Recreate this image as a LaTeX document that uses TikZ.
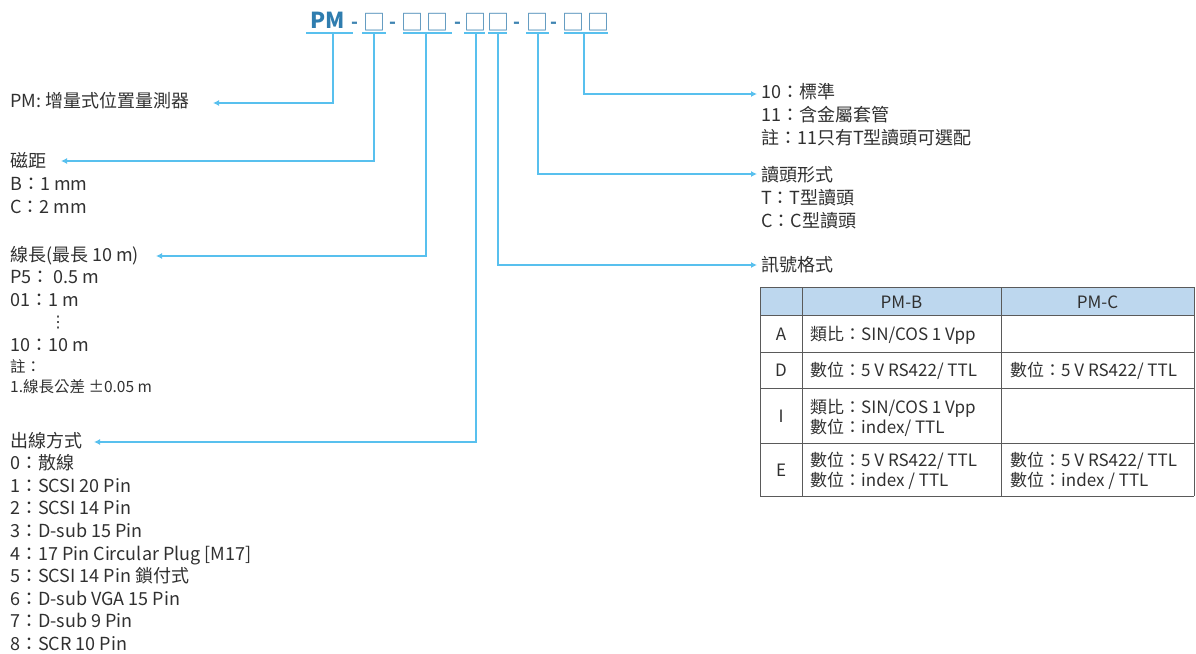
\documentclass[tikz,border=0pt]{standalone}
\usepackage{fontspec}
\setmainfont{Noto Sans CJK TC}
\newfontfamily\dejavu{DejaVu Sans}
\usetikzlibrary{arrows.meta}
\definecolor{hdrblue}{HTML}{2F7DAF}
\definecolor{boxblue}{HTML}{3F84B2}
\definecolor{connblue}{HTML}{58C0EE}
\definecolor{txtgray}{HTML}{303030}
\definecolor{gridgray}{HTML}{5A5A5A}
\definecolor{theadfill}{HTML}{BDD7EE}
\tikzset{
  lbl/.style={anchor=base west, inner sep=0pt, text=txtgray, font=\fontsize{18}{22}\selectfont},
  smalllbl/.style={lbl, font=\fontsize{15.5}{18}\selectfont},
  connector/.style={draw=connblue, line width=1.8pt, -{Latex[length=6pt,width=6pt]}},
  uline/.style={draw=connblue, line width=1.8pt},
  hdtext/.style={anchor=base, inner sep=0pt, text=hdrblue},
  hdbox/.style={anchor=base, inner sep=0pt, text=boxblue, font=\fontsize{22}{22}\selectfont},
  hddash/.style={anchor=base, inner sep=0pt, text=boxblue, font=\bfseries\fontsize{18}{18}\selectfont},
  cell/.style={anchor=base west, inner sep=0pt, text=txtgray, font=\fontsize{17}{20}\selectfont},
  cellc/.style={cell, anchor=base},
  gridline/.style={draw=gridgray, line width=0.9pt},
}
\begin{document}
\begin{tikzpicture}[x=1pt,y=-1pt]
\useasboundingbox (0,0) rectangle (1196,653);

% ---------- header code ----------
\node[hdtext, font=\bfseries\fontsize{22}{22}\selectfont] (pm) at (327.5,28) {PM};
\node[hddash] (d1) at (355,28) {-};
\node[hdbox] (b1) at (374.5,30.5) {□};
\node[hddash] (d2) at (393,28) {-};
\node[hdbox] (b2a) at (412.5,30.5) {□};
\node[hdbox] (b2b) at (437,30.5) {□};
\node[hddash] (d3) at (458,28) {-};
\node[hdbox] (b3a) at (475,30.5) {□};
\node[hdbox] (b3b) at (498,30.5) {□};
\node[hddash] (d4) at (517,28) {-};
\node[hdbox] (b4) at (537,30.5) {□};
\node[hddash] (d5) at (554,28) {-};
\node[hdbox] (b5a) at (573,30.5) {□};
\node[hdbox] (b5b) at (598,30.5) {□};

% underline coordinates
\coordinate (u1l) at (306,33); \coordinate (u1r) at (353,33); \coordinate (s1) at (333,33);
\coordinate (u2l) at (362,33); \coordinate (u2r) at (386,33); \coordinate (s2) at (374,33);
\coordinate (u3l) at (403,33); \coordinate (u3r) at (452,33); \coordinate (s3) at (426,33);
\coordinate (u4l) at (464,33); \coordinate (u4r) at (485,33); \coordinate (s4) at (476,33);
\coordinate (u5l) at (488,33); \coordinate (u5r) at (507,33); \coordinate (s5) at (498,33);
\coordinate (u6l) at (526,33); \coordinate (u6r) at (549,33); \coordinate (s6) at (538,33);
\coordinate (u7l) at (564,33); \coordinate (u7r) at (608,33); \coordinate (s7) at (584,33);
\foreach \i in {1,...,7} { \draw[uline] (u\i l) -- (u\i r); }

% arrow end coordinates
\coordinate (e1) at (213,103);
\coordinate (e2) at (61,161);
\coordinate (e3) at (156,256);
\coordinate (e4) at (94,442);
\coordinate (e5) at (757,265);
\coordinate (e6) at (757,174);
\coordinate (e7) at (757,94);
\foreach \i in {1,...,7} { \draw[connector] (s\i) |- (e\i); }

% ---------- left labels ----------
\node[lbl] (t1) at (10,107) {PM: 增量式位置量測器};

\node[lbl] (t2) at (10,167) {磁距};
\node[lbl] (t2a) at (10,190) {B：1 mm};
\node[lbl] (t2b) at (10,213) {C：2 mm};

\node[lbl] (t3) at (10,261) {線長(最長 10 m)};
\node[lbl] (t3a) at (10,283.6) {P5： 0.5 m};
\node[lbl] (t3b) at (10,306.2) {01：1 m};
\node[inner sep=0pt, text=txtgray, font=\dejavu\fontsize{16}{16}\selectfont] (t3c) at (58,323) {⋮};
\node[lbl] (t3d) at (10,351.4) {10：10 m};
\node[smalllbl] (t3e) at (10,372) {註：};
\node[smalllbl] (t3f) at (10,392) {1.線長公差 ±0.05 m};

\node[lbl] (t4) at (10,447) {出線方式};
\node[lbl] (t40) at (10,469.6) {0：散線};
\node[lbl] (t41) at (10,492.2) {1：SCSI 20 Pin};
\node[lbl] (t42) at (10,514.8) {2：SCSI 14 Pin};
\node[lbl] (t43) at (10,537.4) {3：D-sub 15 Pin};
\node[lbl] (t44) at (10,560) {4：17 Pin Circular Plug [M17]};
\node[lbl] (t45) at (10,582.6) {5：SCSI 14 Pin 鎖付式};
\node[lbl] (t46) at (10,605.2) {6：D-sub VGA 15 Pin};
\node[lbl] (t47) at (10,627.8) {7：D-sub 9 Pin};
\node[lbl] (t48) at (10,650.4) {8：SCR 10 Pin};

% ---------- right labels ----------
\node[lbl] (r1) at (761,98) {10：標準};
\node[lbl] (r1a) at (761,121) {11：含金屬套管};
\node[lbl] (r1b) at (761,144) {註：11只有T型讀頭可選配};
\node[lbl] (r2) at (761,181) {讀頭形式};
\node[lbl] (r2a) at (761,204) {T：T型讀頭};
\node[lbl] (r2b) at (761,227) {C：C型讀頭};
\node[lbl] (r3) at (761,271) {訊號格式};

% ---------- table ----------
\fill[theadfill] (760,287) rectangle (1194,315);
\foreach \yy in {287,315,352,388,443,496} { \draw[gridline] (760,\yy) -- (1194,\yy); }
\foreach \xx in {760,802,1001,1194} { \draw[gridline] (\xx,287) -- (\xx,496); }

\node[cellc] (hB) at (901.5,308) {PM-B};
\node[cellc] (hC) at (1097.5,308) {PM-C};

\node[cellc] (rA) at (781,340) {A};
\node[cellc] (rD) at (781,376) {D};
\node[cellc] (rI) at (781,422) {I};
\node[cellc] (rE) at (781,476) {E};

\node[cell] (cA1) at (810,340) {類比：SIN/COS 1 Vpp};
\node[cell] (cD1) at (810,376) {數位：5 V RS422/ TTL};
\node[cell] (cD2) at (1010,376) {數位：5 V RS422/ TTL};
\node[cell] (cI1) at (810,413) {類比：SIN/COS 1 Vpp};
\node[cell] (cI2) at (810,433) {數位：index/ TTL};
\node[cell] (cE1) at (810,466.5) {數位：5 V RS422/ TTL};
\node[cell] (cE2) at (810,486) {數位：index / TTL};
\node[cell] (cE3) at (1010,466.5) {數位：5 V RS422/ TTL};
\node[cell] (cE4) at (1010,486) {數位：index / TTL};
\end{tikzpicture}
\end{document}
